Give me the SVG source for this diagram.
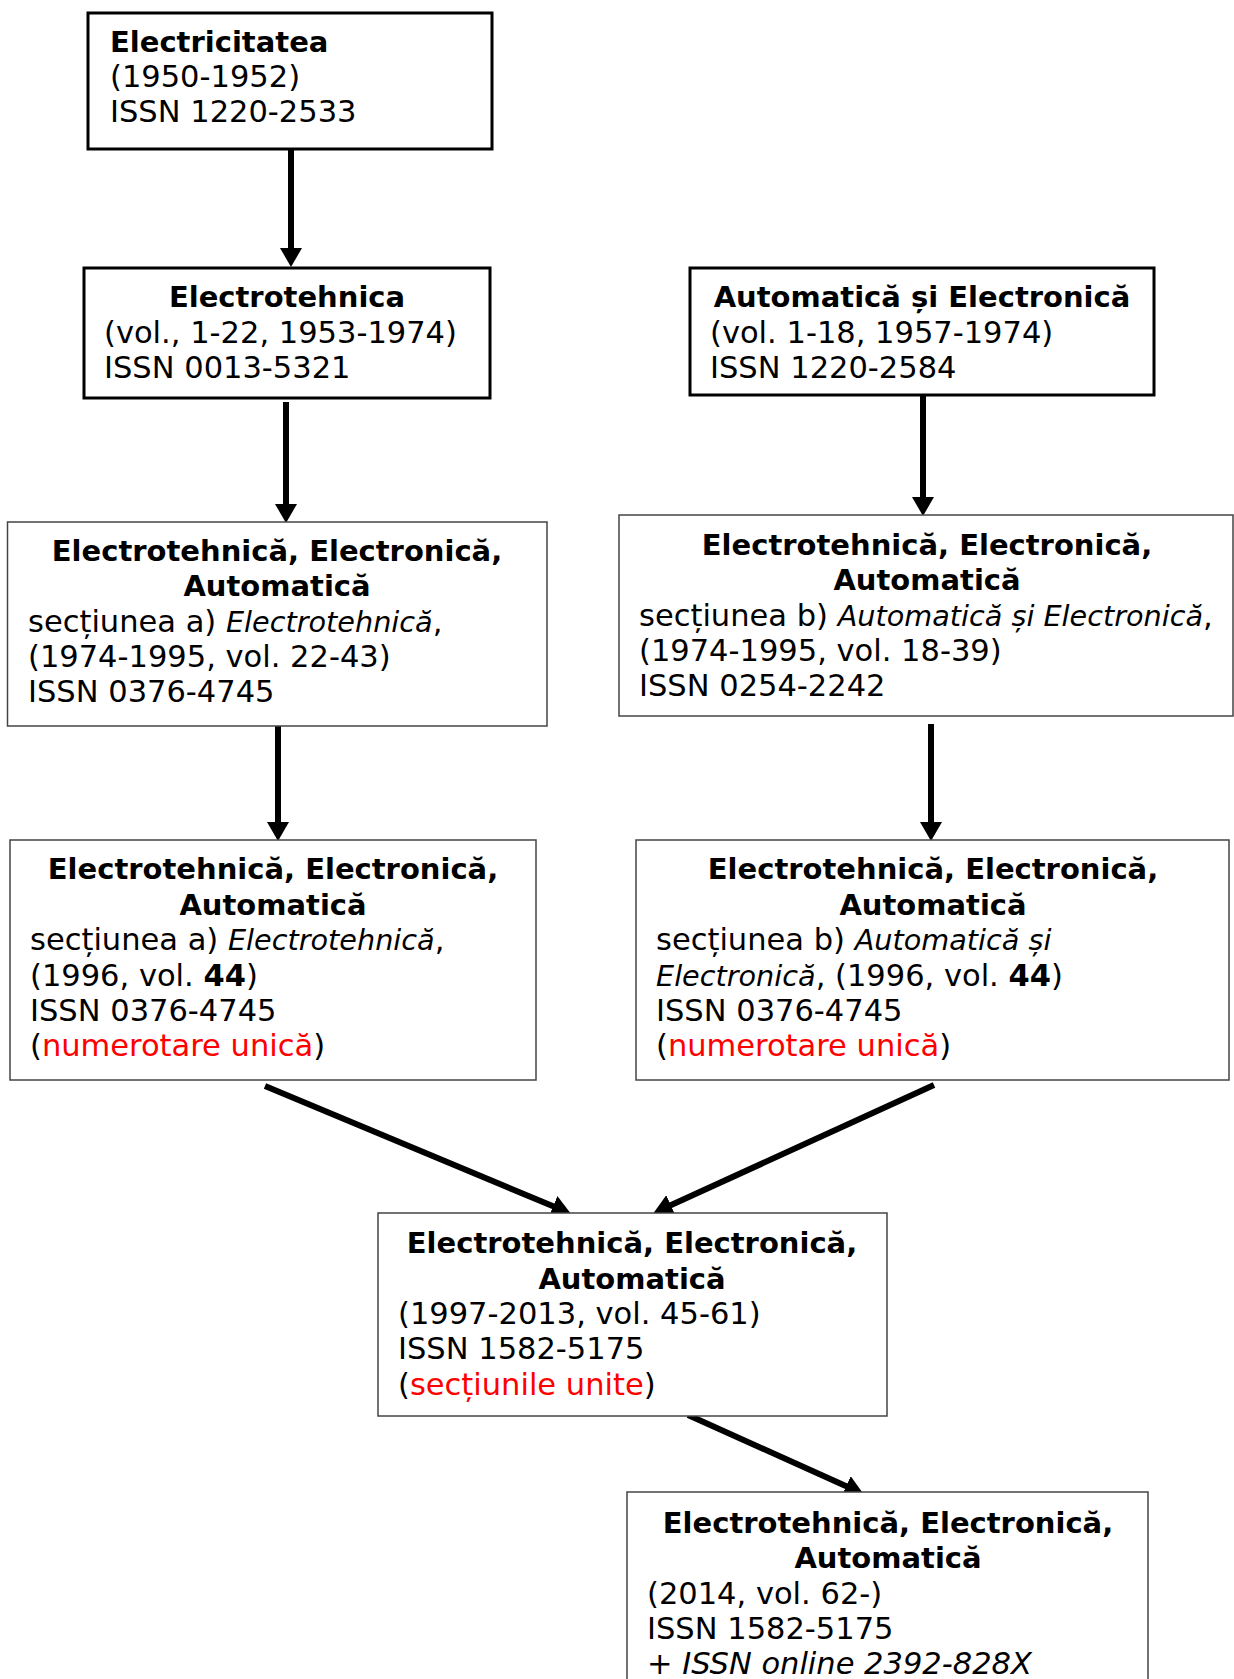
<svg xmlns="http://www.w3.org/2000/svg" width="1234" height="1679" viewBox="0 0 1234 1679">
<style>
text{font-family:"DejaVu Sans","Verdana",sans-serif;font-size:30.5px;fill:#000}
.b{font-weight:bold;font-size:29px}
.c{text-anchor:middle}
.i{font-style:italic;font-size:28.7px}
.il{font-style:italic}
.r{fill:#ff0000}
.bx1{fill:#fff;stroke:#000;stroke-width:3}
.bx2{fill:#fff;stroke:#444;stroke-width:1.5}
.cn{stroke:#000;stroke-width:6;fill:none;marker-end:url(#ah)}
</style>
<defs>
<marker id="ah" markerUnits="userSpaceOnUse" markerWidth="20" markerHeight="22" refX="2" refY="11" orient="auto" viewBox="0 0 20 22">
<path d="M0,0 L19,11 L0,22 z" fill="#000"/>
</marker>
</defs>
<rect width="1234" height="1679" fill="#fff"/>
<g id="connectors">
<line class="cn" x1="291" y1="149" x2="291" y2="250"/>
<line class="cn" x1="286" y1="402" x2="286" y2="506"/>
<line class="cn" x1="923" y1="395" x2="923" y2="499"/>
<line class="cn" x1="278" y1="720" x2="278" y2="824"/>
<line class="cn" x1="931" y1="724" x2="931" y2="824"/>
<line class="cn" x1="265" y1="1086" x2="555" y2="1207"/>
<line class="cn" x1="934" y1="1085" x2="669" y2="1206"/>
<line class="cn" x1="688" y1="1415" x2="848" y2="1487"/>
</g>
<g id="n1">
<rect class="bx1" x="88" y="13" width="404" height="136"/>
<text class="b" x="110" y="52">Electricitatea</text>
<text x="110" y="87">(1950-1952)</text>
<text x="110" y="122">ISSN 1220-2533</text>
</g>
<g id="n2">
<rect class="bx1" x="84" y="268" width="406" height="130"/>
<text class="b c" x="287" y="307">Electrotehnica</text>
<text x="104" y="343">(vol., 1-22, 1953-1974)</text>
<text x="104" y="378">ISSN 0013-5321</text>
</g>
<g id="n3">
<rect class="bx1" x="690" y="268" width="464" height="127"/>
<text class="b c" x="922" y="307">Automatică și Electronică</text>
<text x="710" y="343">(vol. 1-18, 1957-1974)</text>
<text x="710" y="378">ISSN 1220-2584</text>
</g>
<g id="n4">
<rect class="bx2" x="7.5" y="522" width="539.5" height="204"/>
<text class="b c" x="277" y="561">Electrotehnică, Electronică,</text>
<text class="b c" x="277" y="596">Automatică</text>
<text x="28" y="632">secțiunea a) <tspan class="i">Electrotehnică</tspan>,</text>
<text x="28" y="667">(1974-1995, vol. 22-43)</text>
<text x="28" y="702">ISSN 0376-4745</text>
</g>
<g id="n5">
<rect class="bx2" x="619" y="515" width="614" height="201"/>
<text class="b c" x="927" y="555">Electrotehnică, Electronică,</text>
<text class="b c" x="927" y="590">Automatică</text>
<text x="639" y="626">secțiunea b) <tspan class="i">Automatică și Electronică</tspan>,</text>
<text x="639" y="661">(1974-1995, vol. 18-39)</text>
<text x="639" y="696">ISSN 0254-2242</text>
</g>
<g id="n6">
<rect class="bx2" x="10" y="840" width="526" height="240"/>
<text class="b c" x="273" y="879">Electrotehnică, Electronică,</text>
<text class="b c" x="273" y="915">Automatică</text>
<text x="30" y="950">secțiunea a) <tspan class="i">Electrotehnică</tspan>,</text>
<text x="30" y="986">(1996, vol. <tspan font-weight="bold">44</tspan>)</text>
<text x="30" y="1021">ISSN 0376-4745</text>
<text x="30" y="1056">(<tspan class="r">numerotare unică</tspan>)</text>
</g>
<g id="n7">
<rect class="bx2" x="636" y="840" width="593" height="240"/>
<text class="b c" x="933" y="879">Electrotehnică, Electronică,</text>
<text class="b c" x="933" y="915">Automatică</text>
<text x="656" y="950">secțiunea b) <tspan class="i">Automatică și</tspan></text>
<text x="656" y="986"><tspan class="i">Electronică</tspan>, (1996, vol. <tspan font-weight="bold">44</tspan>)</text>
<text x="656" y="1021">ISSN 0376-4745</text>
<text x="656" y="1056">(<tspan class="r">numerotare unică</tspan>)</text>
</g>
<g id="n8">
<rect class="bx2" x="378" y="1213" width="509" height="203"/>
<text class="b c" x="632" y="1253">Electrotehnică, Electronică,</text>
<text class="b c" x="632" y="1289">Automatică</text>
<text x="398" y="1324">(1997-2013, vol. 45-61)</text>
<text x="398" y="1359">ISSN 1582-5175</text>
<text x="398" y="1395">(<tspan class="r">secțiunile unite</tspan>)</text>
</g>
<g id="n9">
<rect class="bx2" x="627" y="1492" width="521" height="200"/>
<text class="b c" x="888" y="1533">Electrotehnică, Electronică,</text>
<text class="b c" x="888" y="1568">Automatică</text>
<text x="647" y="1604">(2014, vol. 62-)</text>
<text x="647" y="1639">ISSN 1582-5175</text>
<text class="il" x="647" y="1674">+ ISSN online 2392-828X</text>
</g>
</svg>
